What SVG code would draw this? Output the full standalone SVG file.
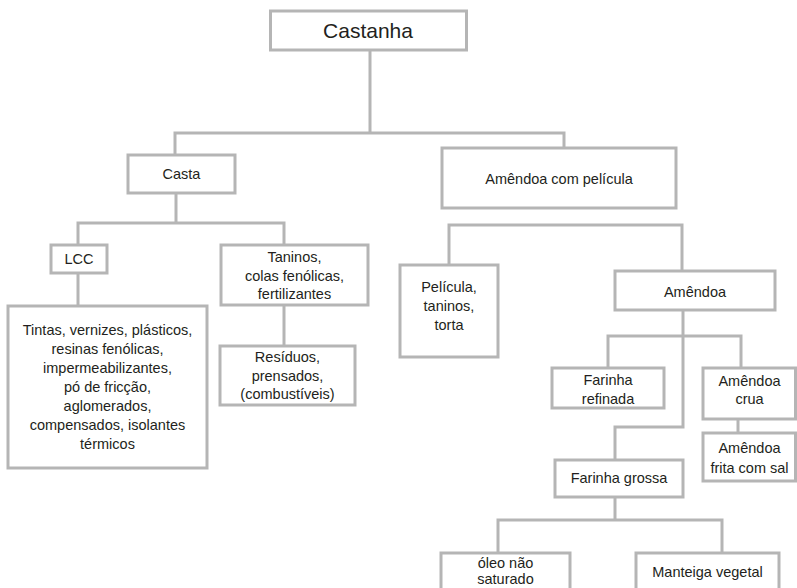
<svg xmlns="http://www.w3.org/2000/svg" width="797" height="588" viewBox="0 0 797 588">
<style>
.b{fill:#fff;stroke:#b5b5b5;stroke-width:3}
.c{fill:none;stroke:#b5b5b5;stroke-width:3}
text{font-family:"Liberation Sans","DejaVu Sans",sans-serif;font-size:14.5px;fill:#231f20;text-anchor:middle}
</style>
<rect width="797" height="588" fill="#fff"/>
<g id="connectors">
<path class="c" d="M370 50V133M175 155V133H564V148"/>
<path class="c" d="M176 193V223M78 245V223H284V245"/>
<path class="c" d="M78 273V306"/>
<path class="c" d="M284 305V346"/>
<path class="c" d="M449 265V225H682V271"/>
<path class="c" d="M683 310V427H615V460"/>
<path class="c" d="M608 368V336H741V368"/>
<path class="c" d="M738 419V433"/>
<path class="c" d="M615 497V520M498 553V520H722V553"/>
</g>
<g id="castanha"><rect class="b" x="270.5" y="11" width="196" height="39"/><text x="368" y="38" style="font-size:21px">Castanha</text></g>
<g id="casta"><rect class="b" x="128" y="155" width="107" height="38"/><text x="181.5" y="179">Casta</text></g>
<g id="amendoa-pelicola"><rect class="b" x="442" y="148" width="234" height="60"/><text x="559" y="184">Amêndoa com película</text></g>
<g id="lcc"><rect class="b" x="51" y="245" width="56" height="28"/><text x="79" y="264">LCC</text></g>
<g id="taninos"><rect class="b" x="221" y="245" width="147" height="60"/><text x="294.5" y="262">Taninos,</text><text x="294.5" y="281">colas fenólicas,</text><text x="294.5" y="299">fertilizantes</text></g>
<g id="tintas"><rect class="b" x="8" y="306" width="199" height="162"/>
<text x="107.5" y="335">Tintas, vernizes, plásticos,</text>
<text x="107.5" y="354">resinas fenólicas,</text>
<text x="107.5" y="373">impermeabilizantes,</text>
<text x="107.5" y="392">pó de fricção,</text>
<text x="107.5" y="411">aglomerados,</text>
<text x="107.5" y="430">compensados, isolantes</text>
<text x="107.5" y="449">térmicos</text></g>
<g id="residuos"><rect class="b" x="220" y="346" width="135" height="59"/><text x="287.5" y="362">Resíduos,</text><text x="287.5" y="381">prensados,</text><text x="287.5" y="399">(combustíveis)</text></g>
<g id="pelicula"><rect class="b" x="400" y="265" width="98" height="92"/><text x="449" y="292">Película,</text><text x="449" y="311">taninos,</text><text x="449" y="330">torta</text></g>
<g id="amendoa"><rect class="b" x="615" y="271" width="160" height="39"/><text x="695" y="297">Amêndoa</text></g>
<g id="farinha-refinada"><rect class="b" x="552" y="368" width="112" height="40"/><text x="608" y="385">Farinha</text><text x="608" y="404">refinada</text></g>
<g id="amendoa-crua"><rect class="b" x="703" y="368" width="92.5" height="51"/><text x="749.5" y="386">Amêndoa</text><text x="749.5" y="404">crua</text></g>
<g id="amendoa-frita"><rect class="b" x="703" y="433" width="92.5" height="48"/><text x="749.5" y="453">Amêndoa</text><text x="749.5" y="473">frita com sal</text></g>
<g id="farinha-grossa"><rect class="b" x="555" y="460" width="128" height="37"/><text x="619" y="483">Farinha grossa</text></g>
<g id="oleo"><rect class="b" x="441" y="553" width="129" height="50"/><text x="505.5" y="568">óleo não</text><text x="505.5" y="584">saturado</text></g>
<g id="manteiga"><rect class="b" x="636" y="553" width="143" height="50"/><text x="707.5" y="577">Manteiga vegetal</text></g>
</svg>
